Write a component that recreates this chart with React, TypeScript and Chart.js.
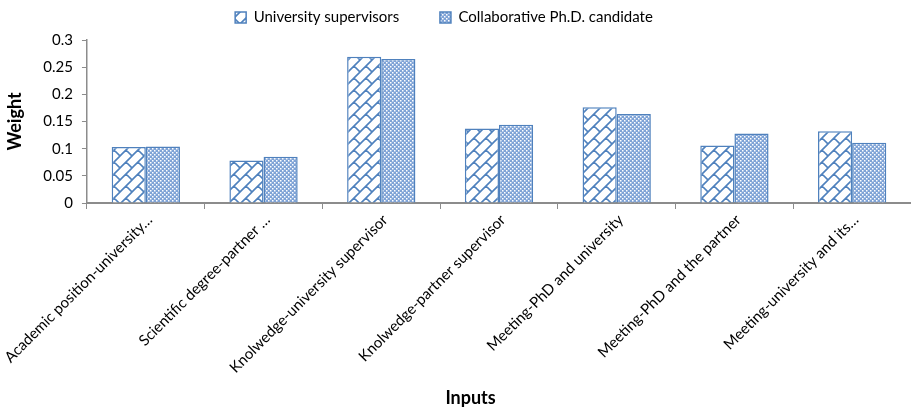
import React, { useEffect, useRef } from "react";
import { Chart, registerables } from "chart.js";

Chart.register(...registerables);

const categories = [
  "Academic position-university…",
  "Scientific degree-partner …",
  "Knolwedge-university supervisor",
  "Knolwedge-partner supervisor",
  "Meeting-PhD and university",
  "Meeting-PhD and the partner",
  "Meeting-university and its…",
];
const universitySupervisors = [0.103, 0.078, 0.269, 0.137, 0.176, 0.106, 0.132];
const collaborativeCandidate = [0.104, 0.085, 0.265, 0.144, 0.164, 0.128, 0.111];
const seriesNames = ["University supervisors", "Collaborative Ph.D. candidate"];

const BLUE = "#4F81BD";
const FONT = "Lato, 'Open Sans', sans-serif";

function brickPattern(): CanvasPattern | string {
  const s = 12;
  const c = document.createElement("canvas");
  c.width = s;
  c.height = s;
  const ctx = c.getContext("2d");
  if (!ctx) return "#fff";
  ctx.fillStyle = "#ffffff";
  ctx.fillRect(0, 0, s, s);
  ctx.strokeStyle = BLUE;
  ctx.lineWidth = 1.6;
  ctx.beginPath();
  ctx.moveTo(-1, s + 1);
  ctx.lineTo(s + 1, -1);
  ctx.moveTo(-1, 1);
  ctx.lineTo(1, -1);
  ctx.moveTo(s - 1, s + 1);
  ctx.lineTo(s + 1, s - 1);
  ctx.moveTo(s / 2, s / 2);
  ctx.lineTo(s + 1, s + 1);
  ctx.moveTo(-1, -1);
  ctx.lineTo(0.5, 0.5);
  ctx.stroke();
  return ctx.createPattern(c, "repeat") || "#fff";
}

function dotPattern(): CanvasPattern | string {
  const s = 4;
  const c = document.createElement("canvas");
  c.width = s;
  c.height = s;
  const ctx = c.getContext("2d");
  if (!ctx) return "#fff";
  ctx.fillStyle = "#7FA3D6";
  ctx.fillRect(0, 0, s, s);
  ctx.fillStyle = "#ffffff";
  ctx.fillRect(0, 0, 1.5, 1.5);
  ctx.fillRect(2, 2, 1.5, 1.5);
  return ctx.createPattern(c, "repeat") || "#fff";
}

const legendGap = {
  id: "legendGap",
  afterInit(chart: any) {
    const legend = chart.legend;
    if (!legend) return;
    const orig = legend.fit;
    legend.fit = function () {
      orig.call(this);
      this.height += 5;
    };
  },
};

export default function App() {
  const ref = useRef<HTMLCanvasElement | null>(null);

  useEffect(() => {
    document.body.style.margin = "0";
    const canvas = ref.current;
    if (!canvas) return;
    const trailing = ["        ", "      "];
    const chart = new Chart(canvas, {
      type: "bar",
      plugins: [legendGap],
      data: {
        labels: categories,
        datasets: [
          {
            label: seriesNames[0],
            data: universitySupervisors,
            backgroundColor: brickPattern(),
            borderColor: BLUE,
            borderWidth: 1.5,
            categoryPercentage: 0.58,
            barPercentage: 1,
          },
          {
            label: seriesNames[1],
            data: collaborativeCandidate,
            backgroundColor: dotPattern(),
            borderColor: BLUE,
            borderWidth: 1.5,
            categoryPercentage: 0.58,
            barPercentage: 1,
          },
        ],
      },
      options: {
        animation: false,
        responsive: false,
        maintainAspectRatio: false,
        layout: { padding: { left: 0, right: 0, top: 0, bottom: 8 } },
        plugins: {
          legend: {
            position: "top",
            labels: {
              font: { family: FONT, size: 15 },
              color: "#000",
              boxWidth: 11,
              boxHeight: 11,
              padding: 10,
              generateLabels: (ch: any) => {
                const items = (Chart.defaults.plugins.legend.labels as any).generateLabels(ch);
                items.forEach((it: any, i: number) => {
                  it.text = it.text + (trailing[i] || "");
                });
                return items;
              },
            },
          },
          tooltip: { enabled: false },
        },
        scales: {
          x: {
            afterFit: (s: any) => {
              s.paddingLeft = Math.max(0, s.paddingLeft - 5);
            },
            grid: {
              display: true,
              offset: true,
              drawOnChartArea: false,
              drawTicks: true,
              tickLength: 6,
              color: "#8c8c8c",
              lineWidth: 1,
            },
            border: { display: true, color: "#8c8c8c", width: 2 },
            ticks: {
              font: { family: FONT, size: 15 },
              color: "#000",
              maxRotation: 45,
              minRotation: 45,
              autoSkip: false,
              padding: 2,
              labelOffset: 4,
            },
            title: {
              display: true,
              text: "Inputs" + "             ",
              font: { family: FONT, size: 18, weight: "bold" },
              color: "#000",
              padding: { top: 10, bottom: -3 },
            },
          },
          y: {
            min: 0,
            max: 0.3,
            grid: {
              display: true,
              drawOnChartArea: false,
              drawTicks: true,
              tickLength: 5,
              color: "#8c8c8c",
            },
            border: { display: true, color: "#8c8c8c", width: 1.5 },
            ticks: {
              stepSize: 0.05,
              font: { family: FONT, size: 15 },
              color: "#000",
              padding: 9,
              callback: (v: any) => String(Number(Number(v).toFixed(2))),
            },
            title: {
              display: true,
              text: "Weight",
              font: { family: FONT, size: 18, weight: "bold" },
              color: "#000",
              padding: { top: 0, bottom: 8 },
            },
          },
        },
      },
    });
    return () => chart.destroy();
  }, []);

  return <canvas ref={ref} width={911} height={414} style={{ display: "block" }} />;
}
